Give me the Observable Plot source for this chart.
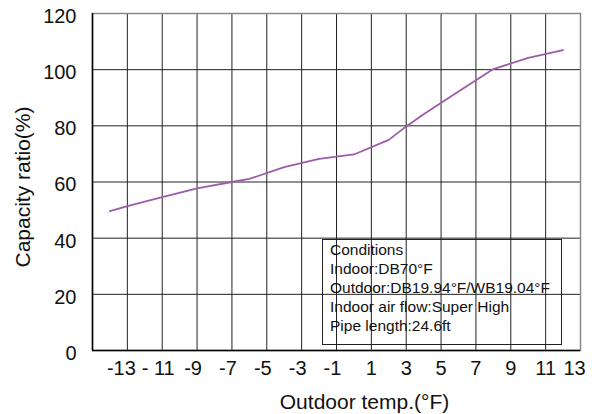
<!DOCTYPE html>
<html>
<head>
<meta charset="utf-8">
<script src="https://cdn.jsdelivr.net/npm/d3@7"></script>
<script src="https://cdn.jsdelivr.net/npm/@observablehq/plot@0.6"></script>
<style>
  html, body { margin: 0; padding: 0; background: #fff; }
  #wrap { position: relative; width: 592px; height: 414px; font-family: "Liberation Sans", Arial, sans-serif; }
  #cond {
    position: absolute; left: 322px; top: 239px; width: 240px; height: 106px;
    border: 1px solid #222; background: transparent; box-sizing: border-box;
    font-size: 15.5px; line-height: 18.9px; color: #111;
    padding: 1px 0 0 7px; white-space: nowrap;
  }
</style>
</head>
<body>
<div id="wrap"></div>
<script>
// Data
const temps  = [-14, -13, -11, -9, -7, -6, -4, -2, 0, 2, 3, 4, 6, 8, 10, 12];
const ratios = [49.6, 51.4, 54.6, 57.7, 60.0, 61.1, 65.3, 68.2, 69.8, 75.0, 79.8, 84.1, 92.2, 100.2, 104.2, 107.0];

const xTicks = [-13, -11, -9, -7, -5, -3, -1, 1, 3, 5, 7, 9, 11, 13];
const xTickLabels = ["-13", "- 11", "-9", "-7", "-5", "-3", "-1", "1", "3", "5", "7", "9", "11", "13"];
const yTicks = [0, 20, 40, 60, 80, 100, 120];
const xTitle = "Outdoor temp.(°F)";
const yTitle = "Capacity ratio(%)";
const conditions = ["Conditions", "Indoor:DB70°F", "Outdoor:DB19.94°F/WB19.04°F", "Indoor air flow:Super High", "Pipe length:24.6ft"];

const data = temps.map((t, i) => ({t, r: ratios[i]}));
const labelOf = new Map(xTicks.map((d, i) => [d, xTickLabels[i]]));
const axisOpts = {tickSize: 0, tickPadding: 10, label: null, tickFormat: d => labelOf.get(d), fill: "#111"};

const chart = Plot.plot({
  width: 592,
  height: 414,
  marginLeft: 92,
  marginRight: 12,
  marginTop: 13,
  marginBottom: 64,
  style: {fontFamily: "Liberation Sans, Arial, sans-serif", fontSize: "20px", color: "#111", background: "#fff"},
  x: {domain: [-15, 13]},
  y: {domain: [0, 120]},
  marks: [
    Plot.gridX(xTicks, {stroke: "#222", strokeOpacity: 1, strokeWidth: 1}),
    Plot.gridY(yTicks, {stroke: "#222", strokeOpacity: 1, strokeWidth: 1}),
    Plot.frame({stroke: "#888", strokeWidth: 1.5}),
    Plot.ruleX([-15], {stroke: "#000", strokeWidth: 1.5}),
    Plot.ruleY([0], {stroke: "#000", strokeWidth: 1.5}),
    Plot.axisY(yTicks, {tickSize: 0, tickPadding: 16, dy: 3, label: null, fill: "#111"}),
    Plot.axisX(xTicks.filter(d => d === -13), {...axisOpts, dx: -6}),
    Plot.axisX(xTicks.filter(d => d < 0 && d > -13), {...axisOpts, dx: -4}),
    Plot.axisX(xTicks.filter(d => d > 0 && d < 13), axisOpts),
    Plot.axisX(xTicks.filter(d => d === 13), {...axisOpts, dx: -6}),
    Plot.line(data, {x: "t", y: "r", stroke: "#9b5ca8", strokeWidth: 1.8}),
    Plot.text([xTitle], {frameAnchor: "bottom", lineAnchor: "middle", dx: 28, dy: 52, fontSize: 21, fill: "#111"}),
    Plot.text([yTitle], {frameAnchor: "left", textAnchor: "middle", lineAnchor: "middle", dx: -69, dy: 5, rotate: -90, fontSize: 21, fill: "#111"})
  ]
});

const wrap = document.getElementById("wrap");
wrap.appendChild(chart);
const box = document.createElement("div");
box.id = "cond";
box.innerHTML = conditions.map(s => `<div>${s}</div>`).join("");
wrap.appendChild(box);
</script>
</body>
</html>
